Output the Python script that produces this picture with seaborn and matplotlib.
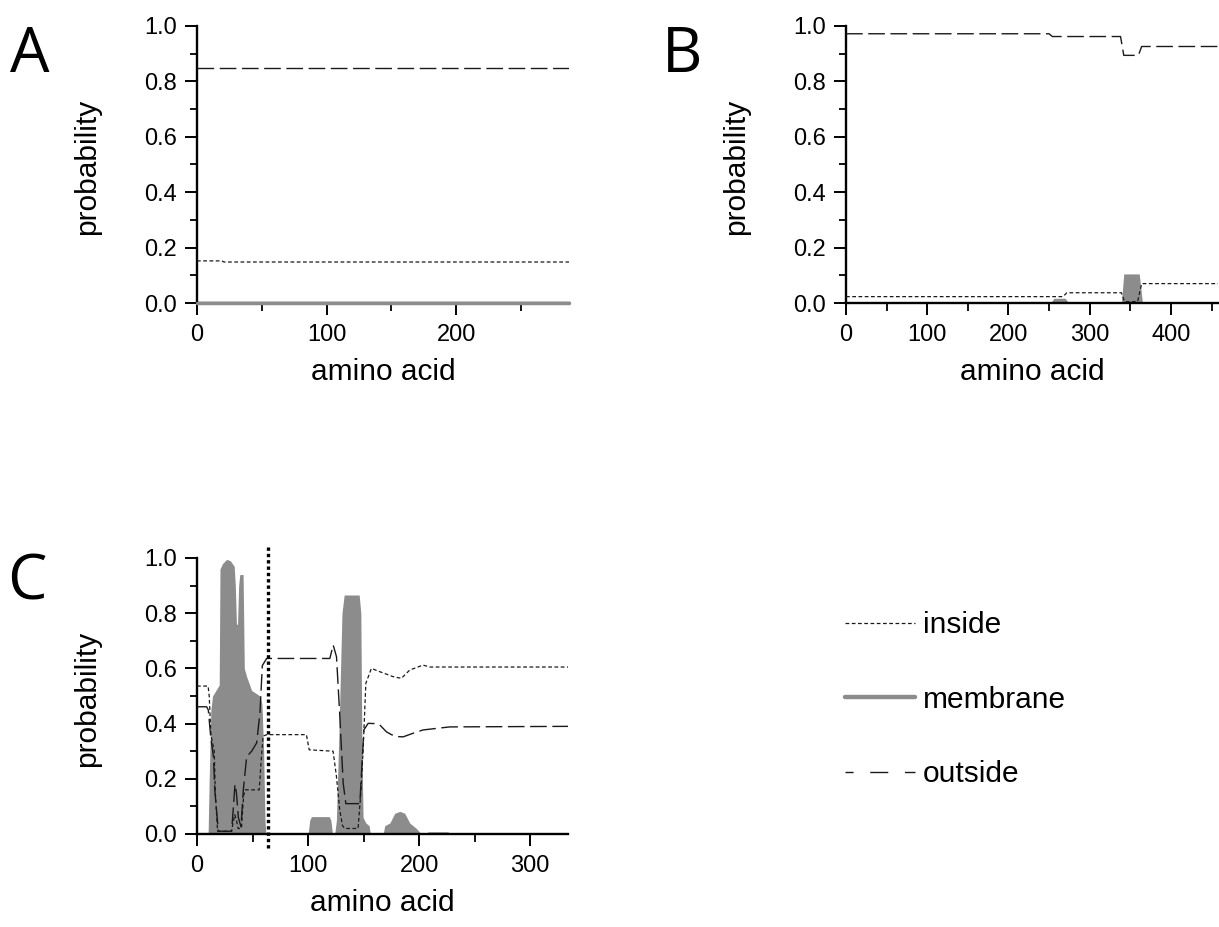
import matplotlib

matplotlib.use("Agg")
import matplotlib.pyplot as plt
import seaborn as sns
from matplotlib.lines import Line2D
from matplotlib.ticker import FormatStrFormatter, MultipleLocator

# ---- data ------------------------------------------------------------------
A_XMAX = 287
A_INSIDE_X = [0, 19, 21, 287]
A_INSIDE_Y = [0.152, 0.152, 0.148, 0.148]
A_OUTSIDE_X = [0, 287]
A_OUTSIDE_Y = [0.85, 0.85]
A_MEMBRANE_X = [0, 287]
A_MEMBRANE_Y = [0.0, 0.0]

B_XMAX = 458
B_INSIDE_X = [0, 267, 272, 339, 343, 359, 364, 458]
B_INSIDE_Y = [0.023, 0.023, 0.037, 0.037, 0.005, 0.005, 0.07, 0.07]
B_OUTSIDE_X = [0, 250, 254, 338, 342, 360, 364, 458]
B_OUTSIDE_Y = [0.972, 0.972, 0.962, 0.962, 0.894, 0.894, 0.926, 0.926]
B_MEMBRANE_X = [0, 252, 256, 270, 274, 339, 342, 361, 365, 458]
B_MEMBRANE_Y = [0, 0, 0.017, 0.017, 0, 0, 0.105, 0.105, 0, 0]

C_XMAX = 334
C_SPLIT = 64
C_INSIDE_X = [0, 10, 11, 12.5, 14, 15.5, 16.5, 18.5, 31, 34, 35.5, 37, 40, 42, 43.5,
              56, 57.5, 59.5, 63, 98.5, 101, 122.5, 125.5, 128.5, 131, 133, 145, 147.5,
              149.5, 152, 157, 164.6, 176.6, 184, 191.5, 203.5, 209.5, 334]
C_INSIDE_Y = [0.536, 0.536, 0.5, 0.36, 0.33, 0.30, 0.15, 0.01, 0.01, 0.07, 0.05, 0.02,
              0.02, 0.14, 0.16, 0.16, 0.25, 0.355, 0.36, 0.36, 0.305, 0.30, 0.21, 0.087,
              0.03, 0.02, 0.02, 0.15, 0.3, 0.546, 0.6, 0.588, 0.57, 0.564, 0.594, 0.612,
              0.605, 0.605]
C_OUTSIDE_X = [0, 8.7, 10.2, 12.4, 14.8, 16, 19.2, 31.2, 34.2, 35.5, 37.2, 39.6, 41.7,
               44.7, 49.2, 53.7, 56.7, 58.8, 62.7, 119.6, 122.6, 125.6, 128.6, 131.6, 134,
               146.6, 150.2, 154.1, 160, 164.6, 170.6, 175, 179.6, 185.6, 194.5, 203.5,
               210, 227.5, 334]
C_OUTSIDE_Y = [0.461, 0.461, 0.449, 0.35, 0.28, 0.16, 0.01, 0.01, 0.18, 0.15, 0.06,
               0.027, 0.16, 0.28, 0.30, 0.33, 0.44, 0.61, 0.636, 0.636, 0.685, 0.642,
               0.425, 0.184, 0.11, 0.11, 0.377, 0.401, 0.40, 0.395, 0.37, 0.36, 0.353,
               0.352, 0.365, 0.377, 0.38, 0.388, 0.39]
C_MEMBRANE_X = [0, 10, 11, 12.5, 14, 17, 20, 20.7, 23, 26.7, 30, 33.5, 34.5, 35.5, 36.5,
                37.5, 38.5, 41.5, 42.6, 44.7, 49.2, 53, 56.7, 58.5, 60, 61.2, 62, 100,
                101.5, 103, 119, 120.5, 122, 124, 125.5, 128, 130.5, 132.5, 146, 147.5,
                148.5, 149.5, 152, 155, 156, 167.6, 169, 173.6, 178, 182.6, 187, 191.5,
                197.5, 202, 206.5, 208, 226, 227.5, 334]
C_MEMBRANE_Y = [0, 0, 0.2, 0.45, 0.5, 0.52, 0.54, 0.96, 0.98, 0.995, 0.99, 0.97, 0.9,
                0.76, 0.76, 0.9, 0.94, 0.94, 0.6, 0.57, 0.52, 0.51, 0.50, 0.47, 0.3, 0.05,
                0, 0, 0.05, 0.063, 0.063, 0.05, 0, 0, 0.05, 0.4, 0.8, 0.866, 0.866, 0.8,
                0.3, 0.06, 0.04, 0.03, 0, 0, 0.03, 0.04, 0.075, 0.082, 0.075, 0.04, 0.02,
                0, 0, 0.008, 0.008, 0, 0]

LEGEND_LABELS = ["inside", "membrane", "outside"]

# ---- styling ---------------------------------------------------------------
W, H = 1219, 927
GRAY = "#8c8c8c"
INK = "#1a1a1a"
INSIDE_LS = (0, (3, 2))
OUTSIDE_LS = (0, (12, 4))
LABEL_FS = 21.5
TICK_FS = 17


def rect(left, top, right, bottom):
    return [left / W, 1 - bottom / H, (right - left) / W, (bottom - top) / H]


def style_axis(ax, xmax):
    ax.set_xlim(0, xmax)
    ax.set_ylim(0, 1.0)
    ax.xaxis.set_major_locator(MultipleLocator(100))
    ax.xaxis.set_minor_locator(MultipleLocator(50))
    ax.yaxis.set_major_locator(MultipleLocator(0.2))
    ax.yaxis.set_minor_locator(MultipleLocator(0.1))
    ax.yaxis.set_major_formatter(FormatStrFormatter("%.1f"))
    ax.tick_params(which="major", length=8.6, width=1.4, direction="out", labelsize=TICK_FS,
                   color="black", labelcolor="black")
    ax.tick_params(axis="y", which="major", pad=6)
    ax.tick_params(axis="x", which="major", pad=6.5)
    ax.tick_params(which="minor", length=5.4, width=1.3, direction="out", color="black")
    for side in ("top", "right"):
        ax.spines[side].set_visible(False)
    for side in ("left", "bottom"):
        ax.spines[side].set_linewidth(1.7)
        ax.spines[side].set_color("black")
    ax.set_xlabel("amino acid", fontsize=LABEL_FS, color="black")
    ax.set_ylabel("probability", fontsize=LABEL_FS, color="black")
    ax.xaxis.set_label_coords(0.5, -0.2)
    ax.yaxis.set_label_coords(-0.258, 0.49)


def draw_panel(ax, inside, outside, membrane, xmax):
    ax.fill_between(membrane[0], 0, membrane[1], color=GRAY, lw=0, zorder=2)
    sns.lineplot(x=outside[0], y=outside[1], ax=ax, color=INK, linewidth=1.0,
                 linestyle=OUTSIDE_LS, estimator=None, sort=False, zorder=3)
    sns.lineplot(x=inside[0], y=inside[1], ax=ax, color=INK, linewidth=0.9,
                 linestyle=INSIDE_LS, estimator=None, sort=False, zorder=3)
    style_axis(ax, xmax)


def main():
    sns.set_theme(style="ticks")
    plt.rcParams["font.family"] = ["Liberation Sans", "DejaVu Sans"]
    plt.rcParams["text.color"] = "black"
    plt.rcParams["axes.labelcolor"] = "black"

    fig = plt.figure(figsize=(W / 100, H / 100), dpi=100)

    ax_a = fig.add_axes(rect(197, 26, 569, 303))
    draw_panel(ax_a, (A_INSIDE_X, A_INSIDE_Y), (A_OUTSIDE_X, A_OUTSIDE_Y),
               (A_MEMBRANE_X, A_MEMBRANE_Y), A_XMAX)
    # membrane trace in A sits on zero, drawn as a thick gray line over the axis
    sns.lineplot(x=A_MEMBRANE_X, y=A_MEMBRANE_Y, ax=ax_a, color=GRAY, linewidth=2.5,
                 estimator=None, sort=False, clip_on=False, zorder=5)
    style_axis(ax_a, A_XMAX)

    ax_b = fig.add_axes(rect(846, 26, 1218, 303))
    draw_panel(ax_b, (B_INSIDE_X, B_INSIDE_Y), (B_OUTSIDE_X, B_OUTSIDE_Y),
               (B_MEMBRANE_X, B_MEMBRANE_Y), B_XMAX)

    ax_c = fig.add_axes(rect(197, 558, 568, 834))
    draw_panel(ax_c, (C_INSIDE_X, C_INSIDE_Y), (C_OUTSIDE_X, C_OUTSIDE_Y),
               (C_MEMBRANE_X, C_MEMBRANE_Y), C_XMAX)
    ax_c.axvline(C_SPLIT, ymin=-0.05, ymax=1.04, color="black", lw=2.4,
                 linestyle=(0, (1, 0.9)), clip_on=False, zorder=4)

    for letter, x, y in [("A", 10, 72), ("B", 662, 72), ("C", 7, 600)]:
        fig.text(x / W, 1 - y / H, letter, fontsize=45, family="Open Sans",
                 color="black", ha="left", va="baseline")

    handles = [
        Line2D([], [], color=INK, lw=0.9, linestyle=INSIDE_LS),
        Line2D([], [], color=GRAY, lw=3.2),
        Line2D([], [], color=INK, lw=1.0, linestyle=(7.2, (13, 12))),
    ]
    fig.legend(handles, LEGEND_LABELS, loc="upper left", bbox_to_anchor=(845 / W, 1 - 611 / H),
               frameon=False, fontsize=LABEL_FS, handlelength=2.34, handletextpad=0.27,
               labelspacing=1.56, borderpad=0, borderaxespad=0)

    fig.savefig("out.png", dpi=100)
    plt.close(fig)


if __name__ == "__main__":
    main()
